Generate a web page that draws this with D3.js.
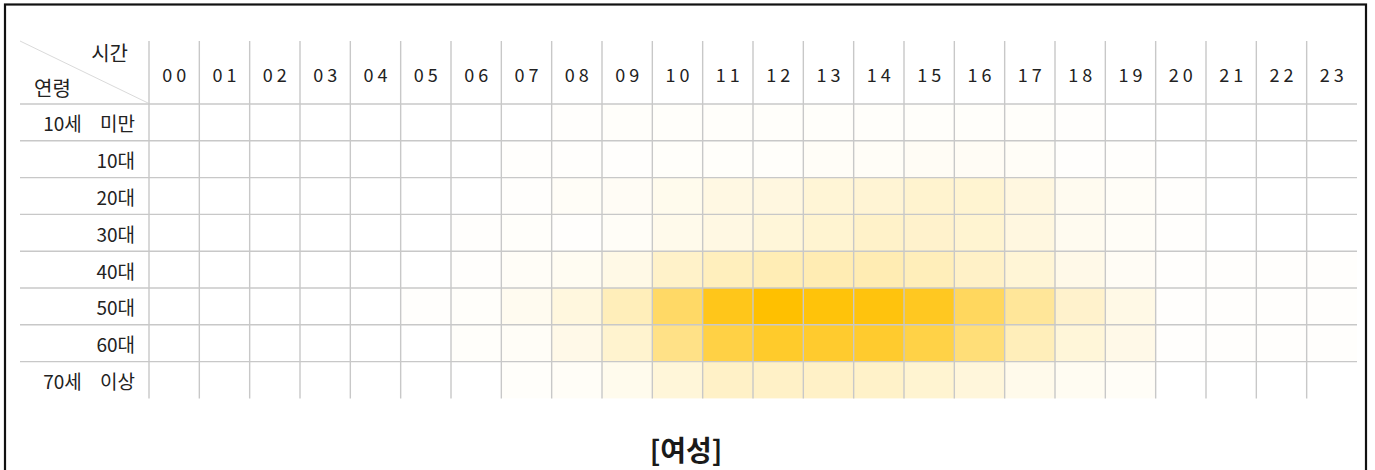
<!DOCTYPE html>
<html><head><meta charset="utf-8">
<script src="https://cdn.jsdelivr.net/npm/d3@7"></script>
<style>
html,body{margin:0;padding:0;background:#fff;}
svg{display:block;font-family:"Noto Sans CJK KR","Noto Sans",sans-serif;}
</style></head>
<body>
<svg id="c" width="1375" height="470"></svg>
<script>
const hours = ["00","01","02","03","04","05","06","07","08","09","10","11","12","13","14","15","16","17","18","19","20","21","22","23"];
const ages = ["10세 미만","10대","20대","30대","40대","50대","60대","70세 이상"];
const v10under = [0,0,0,0,0,0,0,0,1,2,2,2,2,2,2,2,2,2,1,0,0,0,0,0];
const v10s     = [0,0,0,0,0,0,0,1,1,1,2,2,2,3,3,4,4,3,1,1,0,0,0,0];
const v20s     = [0,0,0,0,0,0,0,1,3,4,7,11,12,16,17,19,18,12,6,3,1,0,0,0];
const v30s     = [0,0,0,0,0,0,1,2,1,3,8,11,15,18,21,20,18,12,6,3,1,0,0,0];
const v40s     = [0,0,0,0,0,0,1,3,5,10,21,26,29,30,30,27,22,16,9,4,1,1,1,1];
const v50s     = [0,0,0,0,0,1,2,6,13,27,60,90,100,96,95,87,63,40,20,10,1,1,1,1];
const v60s     = [0,0,0,0,0,0,2,3,9,19,47,73,83,82,82,72,53,27,15,9,1,1,1,1];
const v70over  = [0,0,0,0,0,0,0,2,3,7,15,22,22,22,21,18,14,8,5,3,0,0,0,0];
const seriesValues = [v10under,v10s,v20s,v30s,v40s,v50s,v60s,v70over];
const headerTop = "시간", headerLeft = "연령";
const title = "[여성]";

const svg = d3.select("#c");
const x = d3.scaleBand().domain(hours).range([149, 1357]);
const y = d3.scaleBand().domain(ages).range([104, 398.4]);
const color = d3.scaleLinear().domain([0,100]).range(["#ffffff","#ffc000"]).interpolate(d3.interpolateRgb);

const cells = [];
ages.forEach((a,i)=>hours.forEach((h,j)=>cells.push({a,h,v:seriesValues[i][j]})));

svg.append("g").selectAll("rect").data(cells).join("rect")
  .attr("x", d=>x(d.h)).attr("y", d=>y(d.a))
  .attr("width", x.bandwidth()).attr("height", y.bandwidth())
  .attr("fill", d=>color(d.v));

const gridColor = "#c8c8c8";
svg.append("g").selectAll("line").data(hours).join("line")
  .attr("x1", d=>x(d)).attr("x2", d=>x(d))
  .attr("y1", 41).attr("y2", 398.4)
  .attr("stroke", gridColor).attr("stroke-width", 1.4);
svg.append("g").selectAll("line").data(ages).join("line")
  .attr("x1", 20).attr("x2", 1357)
  .attr("y1", d=>y(d)).attr("y2", d=>y(d))
  .attr("stroke", gridColor).attr("stroke-width", 1.4);
svg.append("line").attr("x1",20).attr("y1",41).attr("x2",148).attr("y2",103)
  .attr("stroke","#dadada").attr("stroke-width",1);

svg.append("text").attr("x",128).attr("y",61).attr("text-anchor","end")
  .attr("font-size",20).attr("fill","#222").text(headerTop);
svg.append("text").attr("x",34).attr("y",96)
  .attr("font-size",20).attr("fill","#222").text(headerLeft);

svg.append("g").selectAll("text").data(hours).join("text")
  .attr("x", d=>x(d)+x.bandwidth()/2+2).attr("y", 82)
  .attr("text-anchor","middle").attr("font-size",18)
  .attr("letter-spacing","4px").attr("fill","#222").text(d=>d);

svg.append("g").selectAll("text").data(ages).join("text")
  .attr("x", 135).attr("y", d=>y(d)+y.bandwidth()/2+9)
  .attr("text-anchor","end").attr("font-size",19)
  .attr("word-spacing","14px").attr("fill","#222").text(d=>d);

svg.append("text").attr("x",686).attr("y",461).attr("text-anchor","middle")
  .attr("font-size",28).attr("font-weight","bold").attr("fill","#1a1a1a").text(title);

svg.append("rect").attr("x",5).attr("y",4.5).attr("width",1361).attr("height",500)
  .attr("fill","none").attr("stroke","#111").attr("stroke-width",2.2);
</script>
</body></html>
